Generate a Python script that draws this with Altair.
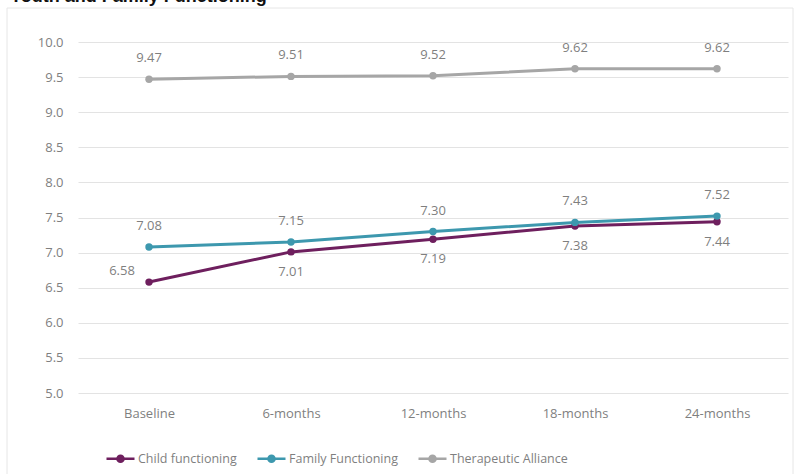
import altair as alt
import pandas as pd

categories = ["Baseline", "6-months", "12-months", "18-months", "24-months"]
child_functioning = [6.58, 7.01, 7.19, 7.38, 7.44]
family_functioning = [7.08, 7.15, 7.30, 7.43, 7.52]
therapeutic_alliance = [9.47, 9.51, 9.52, 9.62, 9.62]
series_names = ["Child functioning", "Family Functioning", "Therapeutic Alliance"]
series_colors = ["#6E1F5E", "#3D98AE", "#A6A6A6"]
y_ticks = [5.0, 5.5, 6.0, 6.5, 7.0, 7.5, 8.0, 8.5, 9.0, 9.5, 10.0]
title_text = "Youth and Family Functioning"

rows = []
for name, vals in zip(series_names, [child_functioning, family_functioning, therapeutic_alliance]):
    for c, v in zip(categories, vals):
        rows.append({"period": c, "value": v, "series": name})
df = pd.DataFrame(rows)

FONT = "Open Sans"
LABEL_GRAY = "#7F7F7F"

x_enc = alt.X("period:N", sort=categories, scale=alt.Scale(type="point", padding=0.5),
              axis=alt.Axis(title=None, labelAngle=0, domain=False, ticks=False,
                            labelPadding=14, labelFontSize=13, labelColor=LABEL_GRAY, labelFont=FONT))
y_enc = alt.Y("value:Q", scale=alt.Scale(domain=[5, 10], nice=False, zero=False),
              axis=alt.Axis(title=None, values=y_ticks, labelOverlap=False,
                            format=".1f", domain=False, ticks=False, labelPadding=15,
                            labelFontSize=13, labelColor=LABEL_GRAY, labelFont=FONT,
                            gridColor="#E3E3E3", gridWidth=1))

legend_symbol = ("M -1 0 L 1 0 M 0.22 0 A 0.22 0.22 0 1 1 -0.22 0 A 0.22 0.22 0 1 1 0.22 0 "
                 "M 0.1 0 A 0.1 0.1 0 1 1 -0.1 0 A 0.1 0.1 0 1 1 0.1 0")

color_enc = alt.Color("series:N", scale=alt.Scale(domain=series_names, range=series_colors),
                      legend=alt.Legend(title=None, orient="none", direction="horizontal",
                                        legendX=27, legendY=401,
                                        symbolType=legend_symbol, symbolSize=784,
                                        symbolStrokeWidth=2.5, columnPadding=15,
                                        labelOffset=2, labelFontSize=12.5, labelColor=LABEL_GRAY,
                                        labelFont=FONT))

base = alt.Chart(df)

lines = base.mark_line(strokeWidth=3).encode(x=x_enc, y=y_enc, color=color_enc)
points = base.mark_circle(size=55, opacity=1).encode(x=x_enc, y=y_enc, color=color_enc)

text_common = dict(fontSize=13, color=LABEL_GRAY, font=FONT)
txt = alt.Text("value:Q", format=".2f")
labels_above = base.transform_filter(
    alt.datum.series != "Child functioning"
).mark_text(dy=-21, **text_common).encode(x=x_enc, y=y_enc, text=txt)
labels_below = base.transform_filter(
    (alt.datum.series == "Child functioning") & (alt.datum.period != "Baseline")
).mark_text(dy=20, **text_common).encode(x=x_enc, y=y_enc, text=txt)
labels_left = base.transform_filter(
    (alt.datum.series == "Child functioning") & (alt.datum.period == "Baseline")
).mark_text(dx=-27, dy=-11, **text_common).encode(x=x_enc, y=y_enc, text=txt)

one = pd.DataFrame({"k": [0]})
frame = alt.Chart(one).mark_rect(fillOpacity=0, stroke="#E6E6E6", strokeWidth=1).encode(
    x=alt.value(-71), x2=alt.value(715), y=alt.value(-34), y2=alt.value(445))
title = alt.Chart(one).mark_text(text=title_text, align="left", baseline="alphabetic",
                                 fontSize=18, fontWeight="bold", color="#111111",
                                 font="Liberation Sans").encode(
    x=alt.value(-68), y=alt.value(-40))

chart = alt.layer(frame, title, lines, points, labels_above, labels_below, labels_left).properties(
    width=710, height=351,
    autosize=alt.AutoSizeParams(type="none"),
    padding={"left": 78, "top": 42, "right": 15, "bottom": 81},
    background="white",
).configure_view(stroke=None)

chart.save("out.html", embed_options={"renderer": "svg", "actions": False})
